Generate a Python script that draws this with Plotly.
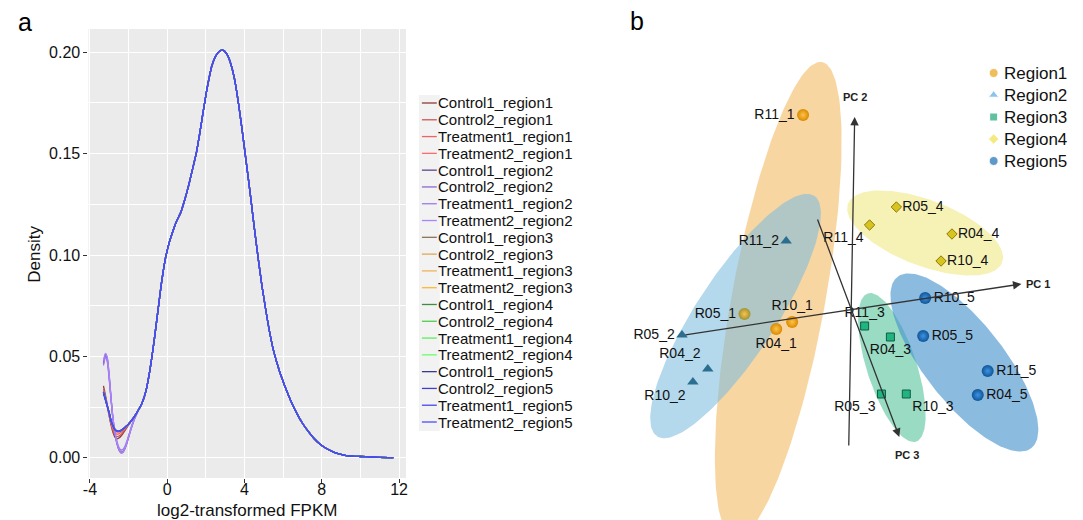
import numpy as np
import plotly.graph_objects as go

W, H = 1083, 520
FONT = "Liberation Sans, Arial, sans-serif"

# ---------------- Panel a : density curves ----------------
series_names = [
    "Control1_region1", "Control2_region1", "Treatment1_region1", "Treatment2_region1",
    "Control1_region2", "Control2_region2", "Treatment1_region2", "Treatment2_region2",
    "Control1_region3", "Control2_region3", "Treatment1_region3", "Treatment2_region3",
    "Control1_region4", "Control2_region4", "Treatment1_region4", "Treatment2_region4",
    "Control1_region5", "Control2_region5", "Treatment1_region5", "Treatment2_region5",
]
series_colors = [
    "#8B3A3A", "#CD5555", "#EE6363", "#FF6A6A",
    "#5D478B", "#8968CD", "#9F79EE", "#AB82FF",
    "#8B7355", "#DDA85A", "#EEB45A", "#FFB732",
    "#3E8E3E", "#4FCD4F", "#5EEE5E", "#66FF66",
    "#3A3A8B", "#3F3FCD", "#4646EE", "#4B4BFF",
]

x_tail = [-3.3, -3.2, -3.1, -3.0, -2.9, -2.8, -2.7, -2.6, -2.5, -2.4,
          -2.3, -2.2, -2.1, -2.0, -1.9, -1.8, -1.7, -1.6, -1.5]

x_body = [-1.3, -1.1, -0.9, -0.7, -0.5, -0.3, -0.1, 0.1, 0.3, 0.5, 0.7, 0.9,
          1.1, 1.3, 1.5, 1.7, 1.9, 2.1, 2.3, 2.5, 2.7, 2.9, 3.1, 3.3, 3.5, 3.7,
          3.9, 4.1, 4.3, 4.5, 4.7, 4.9, 5.1, 5.3, 5.5, 5.8, 6.1, 6.4, 6.7, 7.0,
          7.3, 7.6, 7.9, 8.2, 8.5, 8.8, 9.2, 9.6, 10.0, 10.5, 11.0, 11.7]
density_body = [0.027, 0.033, 0.043, 0.056, 0.071, 0.086, 0.098, 0.106, 0.112, 0.117,
                0.121, 0.127, 0.134, 0.142, 0.150, 0.161, 0.173, 0.184, 0.193, 0.198,
                0.2005, 0.201, 0.199, 0.194, 0.186, 0.174, 0.160, 0.145, 0.130, 0.114,
                0.099, 0.085, 0.073, 0.062, 0.053, 0.043, 0.035, 0.028, 0.022, 0.017,
                0.013, 0.0095, 0.0068, 0.0048, 0.0033, 0.0021, 0.0012, 0.0008, 0.0006,
                0.0004, 0.0002, 0.0001]

tail_region1 = [
    [0.0355, 0.0310, 0.0260, 0.0205, 0.0158, 0.0123, 0.0100, 0.0093, 0.0097, 0.0106,
     0.0118, 0.0132, 0.0147, 0.0162, 0.0176, 0.0190, 0.0204, 0.0218, 0.0234],
    [0.0340, 0.0300, 0.0255, 0.0205, 0.0162, 0.0130, 0.0110, 0.0104, 0.0107, 0.0114,
     0.0124, 0.0136, 0.0150, 0.0164, 0.0178, 0.0191, 0.0204, 0.0218, 0.0234],
    [0.0335, 0.0295, 0.0250, 0.0210, 0.0170, 0.0140, 0.0122, 0.0116, 0.0118, 0.0124,
     0.0132, 0.0142, 0.0153, 0.0165, 0.0178, 0.0190, 0.0204, 0.0218, 0.0234],
    [0.0330, 0.0290, 0.0252, 0.0215, 0.0175, 0.0148, 0.0132, 0.0126, 0.0126, 0.0130,
     0.0137, 0.0146, 0.0156, 0.0167, 0.0178, 0.0190, 0.0204, 0.0218, 0.0234],
]
tail_region2 = [
    [0.0463, 0.0512, 0.0490, 0.0400, 0.0285, 0.0185, 0.0115, 0.0068, 0.0038, 0.0024,
     0.0026, 0.0042, 0.0068, 0.0100, 0.0133, 0.0163, 0.0190, 0.0212, 0.0232],
    [0.0470, 0.0505, 0.0480, 0.0390, 0.0280, 0.0185, 0.0118, 0.0072, 0.0043, 0.0030,
     0.0031, 0.0046, 0.0072, 0.0104, 0.0136, 0.0165, 0.0191, 0.0213, 0.0233],
    [0.0455, 0.0495, 0.0472, 0.0385, 0.0280, 0.0190, 0.0125, 0.0080, 0.0052, 0.0039,
     0.0040, 0.0054, 0.0079, 0.0109, 0.0140, 0.0168, 0.0193, 0.0214, 0.0233],
    [0.0480, 0.0515, 0.0493, 0.0405, 0.0290, 0.0190, 0.0120, 0.0072, 0.0041, 0.0026,
     0.0027, 0.0043, 0.0069, 0.0101, 0.0134, 0.0164, 0.0190, 0.0212, 0.0232],
]
tail_blue = [0.0325, 0.0290, 0.0255, 0.0220, 0.0180, 0.0155, 0.0138, 0.0131, 0.0130, 0.0134,
             0.0140, 0.0148, 0.0157, 0.0166, 0.0177, 0.0189, 0.0203, 0.0218, 0.0234]
tail_region3 = [tail_blue, tail_blue, tail_blue, tail_blue]
tail_region4 = [tail_blue, tail_blue, tail_blue, tail_blue]
tail_region5 = [
    [0.0315, 0.0284, 0.0252, 0.0219, 0.0180, 0.0156, 0.0139, 0.0132, 0.0131, 0.0135,
     0.0141, 0.0149, 0.0158, 0.0167, 0.0178, 0.0190, 0.0203, 0.0218, 0.0234],
    tail_blue, tail_blue, tail_blue,
]
all_tails = tail_region1 + tail_region2 + tail_region3 + tail_region4 + tail_region5

# ---------------- Panel b : PCA (projected 3-D view) ----------------
pca_regions = ["Region1", "Region2", "Region3", "Region4", "Region5"]
pca_labels = [
    ["R11_1", "R05_1", "R10_1", "R04_1"],
    ["R11_2", "R05_2", "R04_2", "R10_2"],
    ["R11_3", "R04_3", "R05_3", "R10_3"],
    ["R05_4", "R11_4", "R04_4", "R10_4"],
    ["R10_5", "R05_5", "R11_5", "R04_5"],
]
pca_x = [
    [-48, -107, -59, -75],
    [-65, -170, -144, -159],
    [14, 40, 31, 56],
    [46, 19, 102, 91],
    [75, 73, 138, 128],
]
pca_y = [
    [193, -6, -14, -21],
    [67, -27, -61, -74],
    [-18, -29, -86, -86],
    [101, 83, 74, 47],
    [10, -28, -63, -87],
]
# confidence ellipses (projected): centre, semi-axes, rotation (deg)
ell_cx = [-73, -116, 41.5, 75, 114.5]
ell_cy = [8, -8, -59.5, 75, -54.5]
ell_a = [242, 144, 78, 83, 109]
ell_b = [47, 40, 25, 33, 40]
ell_angle = [79.5, 56.6, 108.2, -20.7, -51.7]

# projected PC axes: tail -> head, and label position
pc_names = ["PC 1", "PC 2", "PC 3"]
pc_tail_x = [-168, -2, -34]
pc_tail_y = [-27, -139, 90]
pc_head_x = [172, 4, 49]
pc_head_y = [24, 191, -129]
pc_lab_x = [189, 4, 57]
pc_lab_y = [24, 211, -147]

# ---------------- styles ----------------
ell_fill = ["rgba(247,210,152,0.9)", "rgba(125,188,222,0.58)", "rgba(70,192,145,0.55)",
            "rgba(240,232,135,0.62)", "rgba(70,145,205,0.62)"]
ell_order = [0, 1, 3, 2, 4]
pt_symbol = ["circle", "triangle-up", "square", "diamond", "circle"]
pt_size = [12, 10, 8, 8, 12]
pt_color = [["#D98A00", "#9C9434", "#D98A00", "#D98A00"],
            ["#2C6E8F"] * 4, ["#22B383"] * 4, ["#D8C41E"] * 4, ["#0F5599"] * 4]
pt_grad = ["#FFC24A", None, None, None, "#3F93E0"]
pt_line = ["rgba(0,0,0,0)", "rgba(0,0,0,0)", "#0E5E43", "#8A7A0A", "rgba(0,0,0,0)"]
pt_textpos = [
    ["middle left", "middle left", "top center", "bottom center"],
    ["middle left", "middle left", "top left", "bottom left"],
    ["top center", "bottom center", "bottom left", "bottom right"],
    ["middle right", "bottom left", "middle right", "middle right"],
    ["middle right", "middle right", "middle right", "middle right"],
]
leg_color = ["#E8A317", "#5DADE2", "#1FA67A", "#F2E14C", "#1B6EB5"]


def px(x):
    return x / W


def py(y):
    return 1 - y / H


fig = go.Figure()

# panel a curves
for name, col, tail in zip(series_names, series_colors, all_tails):
    fig.add_trace(go.Scatter(
        x=x_tail + x_body, y=tail + density_body, mode="lines", name=name,
        line=dict(color=col, width=1.3, shape="spline", smoothing=0.6),
        showlegend=False, hoverinfo="skip", xaxis="x", yaxis="y"))

# panel b ellipses
t = np.linspace(0, 2 * np.pi, 180)
for k in ell_order:
    th = np.deg2rad(ell_angle[k])
    ex = ell_cx[k] + ell_a[k] * np.cos(t) * np.cos(th) - ell_b[k] * np.sin(t) * np.sin(th)
    ey = ell_cy[k] + ell_a[k] * np.cos(t) * np.sin(th) + ell_b[k] * np.sin(t) * np.cos(th)
    fig.add_trace(go.Scatter(
        x=ex, y=ey, mode="lines", fill="toself", fillcolor=ell_fill[k],
        line=dict(width=0), showlegend=False, hoverinfo="skip",
        xaxis="x2", yaxis="y2"))

# panel b points
for k in range(5):
    grad = dict(type="radial", color=pt_grad[k]) if pt_grad[k] else None
    fig.add_trace(go.Scatter(
        x=pca_x[k], y=pca_y[k], mode="markers+text", text=pca_labels[k],
        textposition=pt_textpos[k], textfont=dict(family=FONT, size=14, color="#111"),
        marker=dict(symbol=pt_symbol[k], size=pt_size[k], color=pt_color[k],
                    line=dict(color=pt_line[k], width=1), gradient=grad),
        showlegend=False, hoverinfo="skip", xaxis="x2", yaxis="y2", cliponaxis=False))

# panel b legend markers
leg_y = [235 - 22 * i for i in range(5)]
fig.add_trace(go.Scatter(
    x=[144] * 5, y=leg_y, mode="markers",
    marker=dict(symbol=pt_symbol, size=[9, 9, 8, 8, 9], color=leg_color),
    showlegend=False, hoverinfo="skip", xaxis="x2", yaxis="y2", cliponaxis=False))

annotations = []
shapes = []

# panel a background
shapes.append(dict(type="rect", xref="x domain", yref="y domain", x0=0, x1=1, y0=0, y1=1,
                   fillcolor="#EBEBEB", line=dict(width=0), layer="below"))

# panel a manual legend
shapes.append(dict(type="rect", xref="paper", yref="paper", x0=px(416), x1=px(437),
                   y0=py(95), y1=py(431), fillcolor="#F2F2F2", line=dict(width=0),
                   layer="below"))
for i, (name, col) in enumerate(zip(series_names, series_colors)):
    yc = 103 + i * 16.79
    shapes.append(dict(type="line", xref="paper", yref="paper", x0=px(419), x1=px(434),
                       y0=py(yc), y1=py(yc), line=dict(color=col, width=1.3)))
    annotations.append(dict(xref="paper", yref="paper", x=px(433), y=py(yc), text=name,
                            xanchor="left", yanchor="middle", showarrow=False,
                            font=dict(family=FONT, size=15, color="#111")))

# panel a axis titles
annotations.append(dict(xref="paper", yref="paper", x=px(243), y=py(510),
                        text="log2-transformed FPKM", showarrow=False,
                        xanchor="center", yanchor="middle",
                        font=dict(family=FONT, size=17, color="#111")))
annotations.append(dict(xref="paper", yref="paper", x=px(28), y=py(254), text="Density",
                        textangle=-90, showarrow=False, xanchor="center", yanchor="middle",
                        font=dict(family=FONT, size=17, color="#111")))

# panel labels
annotations.append(dict(xref="paper", yref="paper", x=px(19), y=py(22), text="a",
                        showarrow=False, xanchor="center", yanchor="middle",
                        font=dict(family=FONT, size=25, color="#000")))
annotations.append(dict(xref="paper", yref="paper", x=px(636), y=py(21), text="b",
                        showarrow=False, xanchor="center", yanchor="middle",
                        font=dict(family=FONT, size=25, color="#000")))

# PC axes arrows
for i in range(3):
    annotations.append(dict(xref="x2", yref="y2", axref="x2", ayref="y2",
                            x=pc_head_x[i], y=pc_head_y[i], ax=pc_tail_x[i], ay=pc_tail_y[i],
                            text="", showarrow=True, arrowhead=2, arrowsize=1.3,
                            arrowwidth=1.3, arrowcolor="#333"))
    annotations.append(dict(xref="x2", yref="y2", x=pc_lab_x[i], y=pc_lab_y[i],
                            text="<b>" + pc_names[i] + "</b>", showarrow=False,
                            xanchor="center", yanchor="middle",
                            font=dict(family="Liberation Sans Narrow, " + FONT, size=11,
                                      color="#222")))

# panel b legend text
for i, reg in enumerate(pca_regions):
    annotations.append(dict(xref="x2", yref="y2", x=152, y=leg_y[i], text=reg,
                            showarrow=False, xanchor="left", yanchor="middle",
                            font=dict(family=FONT, size=17, color="#111")))

fig.update_layout(
    width=W, height=H, margin=dict(l=0, r=0, t=0, b=0),
    paper_bgcolor="white", plot_bgcolor="white",
    font=dict(family=FONT, size=16, color="#111"),
    showlegend=False,
    xaxis=dict(domain=[px(83), px(403)], range=[-4.08, 12.36], tickmode="array",
               tickvals=[-4, 0, 4, 8, 12], ticktext=["-4", "0", "4", "8", "12"],
               showgrid=True, gridcolor="white", gridwidth=1.1, zeroline=False,
               ticks="outside", ticklen=4, tickcolor="#333", ticklabelstandoff=-7,
               tickfont=dict(size=16, color="#111"),
               minor=dict(tickvals=[-2, 2, 6, 10], showgrid=True, gridcolor="white",
                          gridwidth=0.5, ticks=""),
               showline=False, anchor="y"),
    yaxis=dict(domain=[py(478), py(29)], range=[-0.01, 0.2115], tickmode="array",
               tickvals=[0, 0.05, 0.10, 0.15, 0.20],
               ticktext=["0.00", "0.05", "0.10", "0.15", "0.20"],
               showgrid=True, gridcolor="white", gridwidth=1.1, zeroline=False,
               ticks="outside", ticklen=4, tickcolor="#333",
               tickfont=dict(size=16, color="#111"),
               minor=dict(tickvals=[0.025, 0.075, 0.125, 0.175], showgrid=True,
                          gridcolor="white", gridwidth=0.5, ticks=""),
               showline=False, anchor="x"),
    xaxis2=dict(domain=[px(620), 1], range=[-231, 232], visible=False, anchor="y2",
                fixedrange=True),
    yaxis2=dict(domain=[0, 1], range=[-212, 308], visible=False, anchor="x2",
                fixedrange=True),
    shapes=shapes, annotations=annotations,
)

fig.write_html("out.html", config={"displayModeBar": False},
               post_script="document.body.style.margin='0';"
                           "document.body.style.overflow='hidden';")
